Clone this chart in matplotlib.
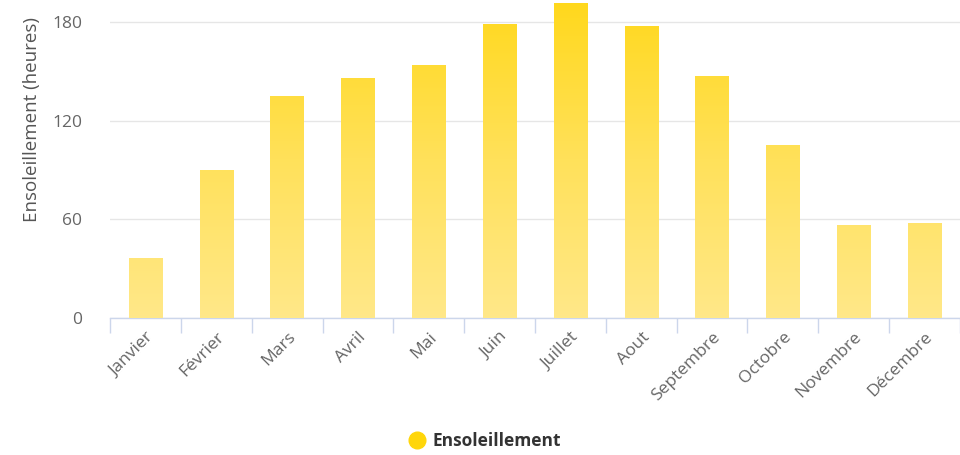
import matplotlib
matplotlib.use("Agg")
import matplotlib.pyplot as plt
import numpy as np
from matplotlib.colors import LinearSegmentedColormap
from matplotlib.lines import Line2D

months = ["Janvier", "Février", "Mars", "Avril", "Mai", "Juin", "Juillet",
          "Aout", "Septembre", "Octobre", "Novembre", "Décembre"]
sunshine = [36.5, 90, 135, 146, 154, 179, 191.5, 177.5, 147, 105, 56.5, 58]
yticks = [0, 60, 120, 180]
series_name = "Ensoleillement"
ylabel = "Ensoleillement (heures)"

plt.rcParams['font.family'] = ['Open Sans', 'DejaVu Sans']

fig = plt.figure(figsize=(9.6, 4.55), dpi=100)
ax = fig.add_axes([110/960, 137/455, 850/960, 318/455])
ymax = 193.4
ax.set_xlim(-0.5, len(months) - 0.5)
ax.set_ylim(0, ymax)

cmap = LinearSegmentedColormap.from_list("sun", ["#FFE889", "#FFE15A", "#FFD81C"])
grad = np.linspace(0, 1, 256).reshape(-1, 1)

bw = 0.47
bars = ax.bar(range(len(months)), sunshine, width=bw, color="none",
              edgecolor="none", zorder=3)
for b in bars:
    x0 = b.get_x()
    im = ax.imshow(grad, cmap=cmap, origin="lower", aspect="auto",
                   extent=(x0, x0 + bw, 0, ymax), zorder=3,
                   interpolation="bilinear")
    im.set_clip_path(b)
ax.set_xlim(-0.5, len(months) - 0.5)
ax.set_ylim(0, ymax)

ax.set_yticks(yticks)
ax.set_yticklabels([str(v) for v in yticks], fontsize=12.5, color="#666666")
ax.tick_params(axis="y", length=0, pad=20)
ax.grid(axis="y", color="#e6e6e6", linewidth=1, zorder=0)
ax.set_axisbelow(True)

ax.set_xticks(range(len(months)))
ax.set_xticklabels(months, rotation=45, ha="right", rotation_mode="anchor",
                   fontsize=12.5, color="#666666")
ax.tick_params(axis="x", which="major", length=0, pad=8)
ax.set_xticks(np.arange(-0.5, len(months) + 0.5, 1), minor=True)
ax.tick_params(axis="x", which="minor", length=11, color="#ccd6eb", width=1)

for s in ["top", "right", "left"]:
    ax.spines[s].set_visible(False)
ax.spines["bottom"].set_color("#ccd6eb")
ax.spines["bottom"].set_linewidth(1)

fig.text(32/960, 1 - 119/455, ylabel, rotation=90, ha="center", va="center",
         fontsize=13.5, color="#555555")

handle = Line2D([], [], marker="o", linestyle="none", markersize=12,
                markerfacecolor="#FFD60A", markeredgecolor="#FFD60A")
leg = fig.legend([handle], [series_name], loc="center",
                 bbox_to_anchor=(485/960, 1 - 441/455), frameon=False,
                 prop={"weight": "bold", "size": 12.5}, handletextpad=0.4,
                 handlelength=1.0)
for t in leg.get_texts():
    t.set_color("#333333")

fig.savefig("out.png", dpi=100)
